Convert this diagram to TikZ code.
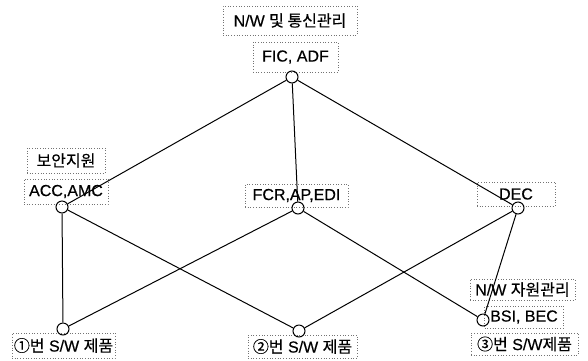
\documentclass[tikz,border=0pt]{standalone}
\usepackage{fontspec}
\setmainfont{Liberation Sans}[FakeBold=0.4]
\newfontfamily\kr{Noto Sans CJK KR}[FakeBold=0.4]

\begin{document}
\begin{tikzpicture}[x=1pt, y=-1pt,
  lbl/.style={draw=black!55, dotted, line width=0.7pt, inner sep=0pt,
    font=\fontsize{16}{18}\selectfont},
  pt/.style={circle, draw, line width=1pt, minimum size=12pt, inner sep=0pt},
  link/.style={line width=1pt}]
  \useasboundingbox (0,0) rectangle (588,360);

  % labels and groups
  \node[lbl, minimum width=134pt, minimum height=29pt] (nw1)  at (290,20.5)  {N/W {\kr 및 통신관리}};
  \node[lbl, minimum width=85pt,  minimum height=30pt] (fic)  at (295.5,57)  {FIC, ADF};
  \node[lbl, minimum width=78pt,  minimum height=25pt] (boan) at (66,160.5)  {\kr 보안지원};
  \node[lbl, minimum width=84pt,  minimum height=25pt] (acc)  at (66,191.5)  {ACC,AMC};
  \node[lbl, minimum width=103pt, minimum height=23pt] (fcr)  at (296.5,195.5) {FCR,AP,EDI};
  \node[lbl, minimum width=78pt,  minimum height=24pt] (dec)  at (516,194)   {DEC};
  \node[lbl, minimum width=105pt, minimum height=21pt] (nw2)  at (522.5,289.5) {N/W {\kr 자원관리}};
  \node[lbl, minimum width=79pt,  minimum height=22pt] (bsi)  at (524,317)   {BSI, BEC};
  \node[lbl, minimum width=107pt, minimum height=22pt] (p3)   at (524.5,344) {{\kr ③번} S/W{\kr 제품}};
  \node[lbl, minimum width=103pt, minimum height=25pt] (p1)   at (63.5,345.5) {{\kr ①번} S/W {\kr 제품}};
  \node[lbl, minimum width=109pt, minimum height=23pt] (p2)   at (302.5,346.5) {{\kr ②번} S/W {\kr 제품}};

  % junction points
  \node[pt] (cfic) at (292,77)  {};
  \node[pt] (cacc) at (62,207)  {};
  \node[pt] (cfcr) at (298,208) {};
  \node[pt] (cdec) at (518,208) {};
  \node[pt] (cbsi) at (483,320) {};
  \node[pt] (cp1)  at (63,329)  {};
  \node[pt] (cp2)  at (299,331) {};

  % lattice connections
  \draw[link] (cfic) -- (cacc);
  \draw[link] (cfic) -- (cfcr);
  \draw[link] (cfic) -- (cdec);
  \draw[link] (cacc) -- (cp1);
  \draw[link] (cacc) -- (cp2);
  \draw[link] (cfcr) -- (cp1);
  \draw[link] (cfcr) -- (cbsi);
  \draw[link] (cdec) -- (cp2);
  \draw[link] (cdec) -- (cbsi);
\end{tikzpicture}
\end{document}
